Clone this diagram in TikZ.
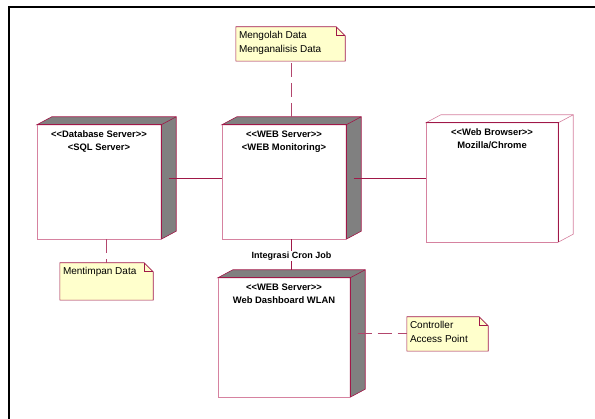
\documentclass[tikz,border=0pt]{standalone}
\usepackage{fontspec}
\setmainfont{Liberation Sans}
\usetikzlibrary{calc,positioning,backgrounds}

\definecolor{rosered}{RGB}{160,24,72}
\definecolor{rosepink}{RGB}{214,130,160}
\definecolor{notefill}{RGB}{255,255,204}
\definecolor{sidegray}{RGB}{128,128,128}

% stereotype brackets, kept apart so they stay two characters
\newcommand{\stereo}[1]{<\kern0pt<#1>\kern0pt>}

\tikzset{
  front/.style={draw=none, fill=white, inner sep=0pt},
  title/.style={anchor=north, align=center, inner sep=0pt, yshift=-5.5pt,
    font=\bfseries\fontsize{9.4}{13}\selectfont},
  note/.style={draw=none, inner sep=0pt},
  notetext/.style={anchor=north west, align=left, inner sep=0pt,
    xshift=3pt, yshift=-4.5pt, font=\fontsize{10}{14}\selectfont},
  link/.style={rosered, line width=0.6pt},
  notelink/.style={rosered!80!white, line width=0.6pt, dash pattern=on 14pt off 6pt},
}

\begin{document}
\begin{tikzpicture}[x=1pt,y=-1pt]
\useasboundingbox (0,0) rectangle (595,419);
% Frame
\draw[line width=2.5pt] (9,419) -- (9,7) -- (595,7);

% Devices (front faces)
\node[front, minimum width=124pt, minimum height=114pt,
  label={[title]north:\stereo{Database Server}\\<SQL Server>}] (db) at (99,182) {};
\node[front, minimum width=124pt, minimum height=114pt,
  label={[title]north:\stereo{WEB Server}\\<WEB Monitoring>}] (mon) at (284,182) {};
\node[front, minimum width=132pt, minimum height=119pt,
  label={[title]north:\stereo{Web Browser}\\Mozilla/Chrome}] (browser) at (492,182.5) {};
\node[front, minimum width=132pt, minimum height=119pt,
  label={[title]north:\stereo{WEB Server}\\Web Dashboard WLAN}] (dash) at (284,337.5) {};

% Depth of the boxes
\foreach \n/\c/\e in {db/sidegray/rosered, mon/sidegray/rosered,
                       browser/white/rosepink, dash/sidegray/rosered} {
  \filldraw[fill=\c, draw=\e, line width=0.6pt]
    (\n.north west) -- ++(15,-8) -- ($(\n.north east)+(15,-8)$)
    -- ($(\n.south east)+(15,-8)$) -- (\n.south east) -- (\n.north east) -- cycle;
  \draw[\e, line width=0.6pt] (\n.north east) -- ++(15,-8);
  \draw[rosered, line width=0.6pt] (\n.north west) -- (\n.north east) -- (\n.south east);
  \draw[rosepink, line width=0.6pt] (\n.north west) -- (\n.south west) -- (\n.south east);
}

% Connection points
\coordinate (db side) at ($(db.east)+(7.5,-4)$);
\coordinate (db foot) at ($(db.south)+(7.5,0)$);
\coordinate (mon side) at ($(mon.east)+(7.5,-4)$);
\coordinate (mon top) at ($(mon.north)+(7.5,-8)$);
\coordinate (mon foot) at ($(mon.south)+(7.5,0)$);
\coordinate (dash top) at ($(dash.north)+(7.5,-8)$);
\coordinate (dash side) at ($(dash.east)+(7.5,-4)$);

% Links
\draw[link] (db side) -- (db side -| mon.west);
\draw[link] (mon side) -- (mon side -| browser.west);
\draw[link] (mon foot) -- (dash top);
\node[fill=white, inner sep=1pt, font=\bfseries\fontsize{9}{11}\selectfont]
  (cron) at ($(mon foot)!0.55!(dash top)$) {Integrasi Cron Job};

% Notes
\node[note, minimum width=109pt, minimum height=34pt,
  label={[notetext]north west:Mengolah Data\\Menganalisis Data}] (work) at (290.5,44) {};
\node[note, minimum width=93pt, minimum height=37pt,
  label={[notetext]north west:Mentimpan Data}] (store) at (106.5,281.5) {};
\node[note, minimum width=81pt, minimum height=34pt,
  label={[notetext]north west:Controller\\Access Point}] (ap) at (447.5,334) {};

\begin{scope}[on background layer]
\foreach \n in {work, store, ap} {
  \filldraw[fill=notefill, draw=rosered, line width=0.6pt]
    (\n.north west) -- ($(\n.north east)+(-9,0)$) -- ($(\n.north east)+(0,9)$)
    -- (\n.south east) -- (\n.south west) -- cycle;
  \draw[rosered, line width=0.6pt] ($(\n.north east)+(-9,0)$) -- ++(0,9) -- ++(9,0);
}
\end{scope}

\draw[notelink] (mon top) -- (mon top |- work.south);
\draw[notelink] (db foot) -- (db foot |- store.north);
\draw[notelink] (dash side) -- (dash side -| ap.west);
\end{tikzpicture}
\end{document}
